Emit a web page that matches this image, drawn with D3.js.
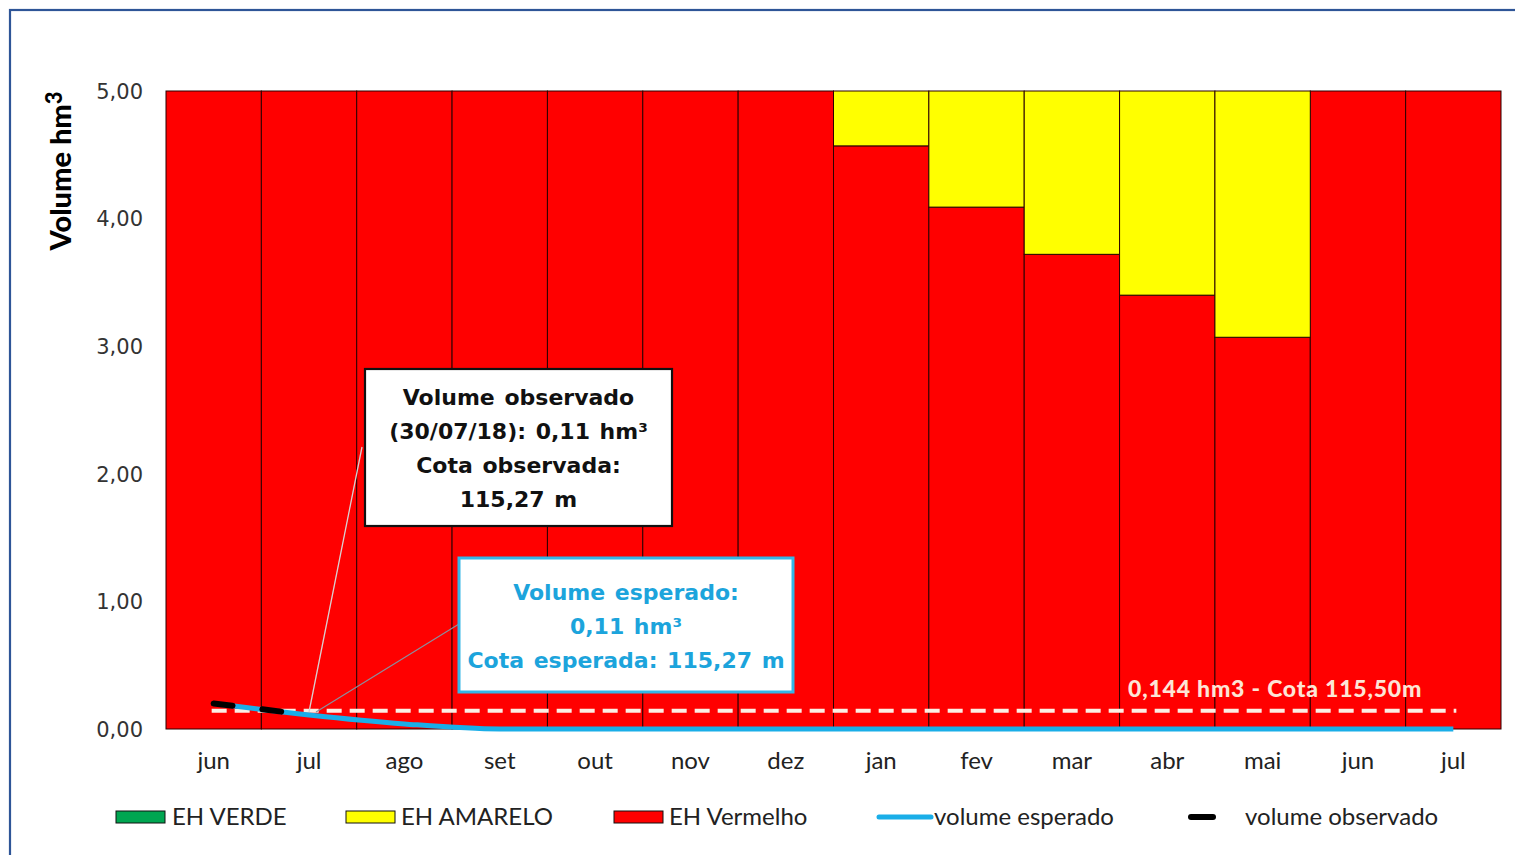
<!DOCTYPE html>
<html>
<head>
<meta charset="utf-8">
<script src="https://cdn.jsdelivr.net/npm/d3@7"></script>
<style>
  html, body { margin: 0; padding: 0; background: #fff; overflow: hidden; }
  svg { display: block; }
</style>
</head>
<body>
<svg id="chart" width="1515" height="855"></svg>
<script>
// ---- Data ----
const categories = ["jun","jul","ago","set","out","nov","dez","jan","fev","mar","abr","mai","jun","jul"];
const ehVerde    = [0,0,0,0,0,0,0,0,0,0,0,0,0,0];
const ehVermelho = [5.00,5.00,5.00,5.00,5.00,5.00,5.00,4.57,4.09,3.72,3.40,3.07,5.00,5.00];
const ehAmarelo  = [0,0,0,0,0,0,0,0.43,0.91,1.28,1.60,1.93,0,0];
const volumeEsperado  = [0.20,0.11,0.04,0.00,0,0,0,0,0,0,0,0,0,0];
const volumeObservado = [0.20,0.11,null,null,null,null,null,null,null,null,null,null,null,null];
const refValue = 0.144;
const refLabel = "0,144 hm3 - Cota 115,50m";
const yTicks = [0,1,2,3,4,5];
const boxObservado = ["Volume observado","(30/07/18): 0,11 hm³","Cota observada:","115,27 m"];
const boxEsperado  = ["Volume esperado:","0,11 hm³","Cota esperada: 115,27 m"];
const legendItems = [
  {name:"EH VERDE", type:"rect", color:"#00a651"},
  {name:"EH AMARELO", type:"rect", color:"#ffff00"},
  {name:"EH Vermelho", type:"rect", color:"#ff0000"},
  {name:"volume esperado", type:"line", color:"#1aaee8"},
  {name:"volume observado", type:"dash", color:"#000000"}
];

// ---- Layout ----
const svg = d3.select("#chart");
const plot = {left:166, right:1501, top:91, bottom:729};

// frame
svg.append("rect").attr("x",10).attr("y",10).attr("width",1540).attr("height",900)
  .attr("fill","none").attr("stroke","#2e5597").attr("stroke-width",2.2);

const idx = categories.map((d,i)=>i);
const x = d3.scaleBand().domain(idx).range([plot.left, plot.right]).padding(0);
const y = d3.scaleLinear().domain([0,5]).range([plot.bottom, plot.top]);

// stacked data
const rows = idx.map(i => ({i, verde:ehVerde[i], vermelho:ehVermelho[i], amarelo:ehAmarelo[i]}));
const stack = d3.stack().keys(["verde","vermelho","amarelo"]);
const series = stack(rows);
const fills = {verde:"#00a651", vermelho:"#ff0000", amarelo:"#ffff00"};

const g = svg.append("g");
series.forEach(s => {
  g.selectAll(null).data(s.filter(d => d[1]-d[0] > 0)).enter().append("rect")
    .attr("x", d => x(d.data.i))
    .attr("width", x.bandwidth())
    .attr("y", d => y(d[1]))
    .attr("height", d => y(d[0]) - y(d[1]))
    .attr("fill", fills[s.key])
    .attr("stroke", "#2a0000")
    .attr("stroke-width", 1);
});

// y axis labels
const yAxis = d3.axisLeft(y).tickValues(yTicks).tickSize(0).tickPadding(0)
  .tickFormat(d => d3.format(".2f")(d).replace(".", ","));
const ya = svg.append("g").attr("transform", `translate(143,0)`).call(yAxis);
ya.select(".domain").remove();
ya.selectAll("text").attr("font-family","DejaVu Sans").attr("font-size",21)
  .attr("fill","#333").attr("dy","0.35em");

// x axis labels
const xAxis = d3.axisBottom(x).tickSize(0).tickPadding(0).tickFormat(i => categories[i]);
const xa = svg.append("g").attr("transform", `translate(0,${plot.bottom})`).call(xAxis);
xa.select(".domain").remove();
xa.selectAll("text").attr("font-family","Lato").attr("font-size",24)
  .attr("fill","#222").attr("dy","0").attr("y",40);

// y axis title
svg.append("text").attr("transform","translate(71,171) rotate(-90)")
  .attr("text-anchor","middle").attr("font-family","Lato").attr("font-weight","900")
  .attr("font-size",29).attr("fill","#000")
  .text("Volume hm").append("tspan").attr("font-size",22).attr("dy","-9").text("3");

const cx = i => x(i) + x.bandwidth()/2;

// reference dashed line
svg.append("line").attr("x1",cx(0)-2).attr("x2",cx(13)+3)
  .attr("y1",y(refValue)).attr("y2",y(refValue))
  .attr("stroke","#fbeee4").attr("stroke-width",4).attr("stroke-dasharray","15,8");
svg.append("text").attr("x",1128).attr("y",y(refValue)-22).attr("dy","0.35em")
  .attr("font-family","Lato").attr("font-weight","900").attr("font-size",23)
  .attr("letter-spacing","0.8px")
  .attr("fill","#fde5d6").text(refLabel);

// leader lines
svg.append("line").attr("x1",362).attr("y1",447).attr("x2",309).attr("y2",712)
  .attr("stroke","#d8d0d0").attr("stroke-width",1.3);
svg.append("line").attr("x1",459).attr("y1",624).attr("x2",316).attr("y2",712)
  .attr("stroke","#8a8f9e").attr("stroke-width",1.3);

// volume esperado line
const lineEsp = d3.line().x((d,i)=>cx(i)).y(d=>y(d)).curve(d3.curveMonotoneX);
svg.append("path").datum(volumeEsperado).attr("d", lineEsp)
  .attr("fill","none").attr("stroke","#1aaee8").attr("stroke-width",5)
  .attr("stroke-linejoin","round");

// volume observado line
const lineObs = d3.line().defined(d=>d!==null).x((d,i)=>cx(i)).y(d=>y(d));
svg.append("path").datum(volumeObservado).attr("d", lineObs)
  .attr("fill","none").attr("stroke","#000").attr("stroke-width",6)
  .attr("stroke-linecap","round").attr("stroke-dasharray","19,30");

// annotation boxes
function box(x0,y0,w,h,stroke,sw,lines,color,lineY){
  svg.append("rect").attr("x",x0).attr("y",y0).attr("width",w).attr("height",h)
    .attr("fill","#fff").attr("stroke",stroke).attr("stroke-width",sw);
  lines.forEach((t,k)=>{
    svg.append("text").attr("x",x0+w/2).attr("y",lineY[k]).attr("dy","0.35em")
      .attr("text-anchor","middle").attr("font-family","DejaVu Sans").attr("font-weight","bold")
      .attr("font-size",22).attr("fill",color).attr("word-spacing","2px").text(t);
  });
}
box(365,369,307,157,"#111",2.2,boxObservado,"#111",[397,431,465,499]);
box(459,558,334,134,"#35b6e6",3,boxEsperado,"#1ca4dc",[592,626,660]);

// legend
const legX = [116,346,614,877,1188];
const legTextX = [172,401,669,934,1245];
const ly = 817;
legendItems.forEach((it,k)=>{
  if (it.type==="rect") {
    svg.append("rect").attr("x",legX[k]).attr("y",ly-6).attr("width",49).attr("height",12)
      .attr("fill",it.color).attr("stroke","#111").attr("stroke-width",1);
  } else if (it.type==="line") {
    svg.append("line").attr("x1",legX[k]+2).attr("x2",legX[k]+54).attr("y1",ly).attr("y2",ly)
      .attr("stroke",it.color).attr("stroke-width",5).attr("stroke-linecap","round");
  } else {
    svg.append("line").attr("x1",legX[k]+3).attr("x2",legX[k]+25).attr("y1",ly).attr("y2",ly)
      .attr("stroke",it.color).attr("stroke-width",6).attr("stroke-linecap","round");
  }
  svg.append("text").attr("x",legTextX[k]).attr("y",ly).attr("dy","0.35em")
    .attr("font-family","Lato").attr("font-size",24).attr("fill","#222").text(it.name);
});
</script>
</body>
</html>
